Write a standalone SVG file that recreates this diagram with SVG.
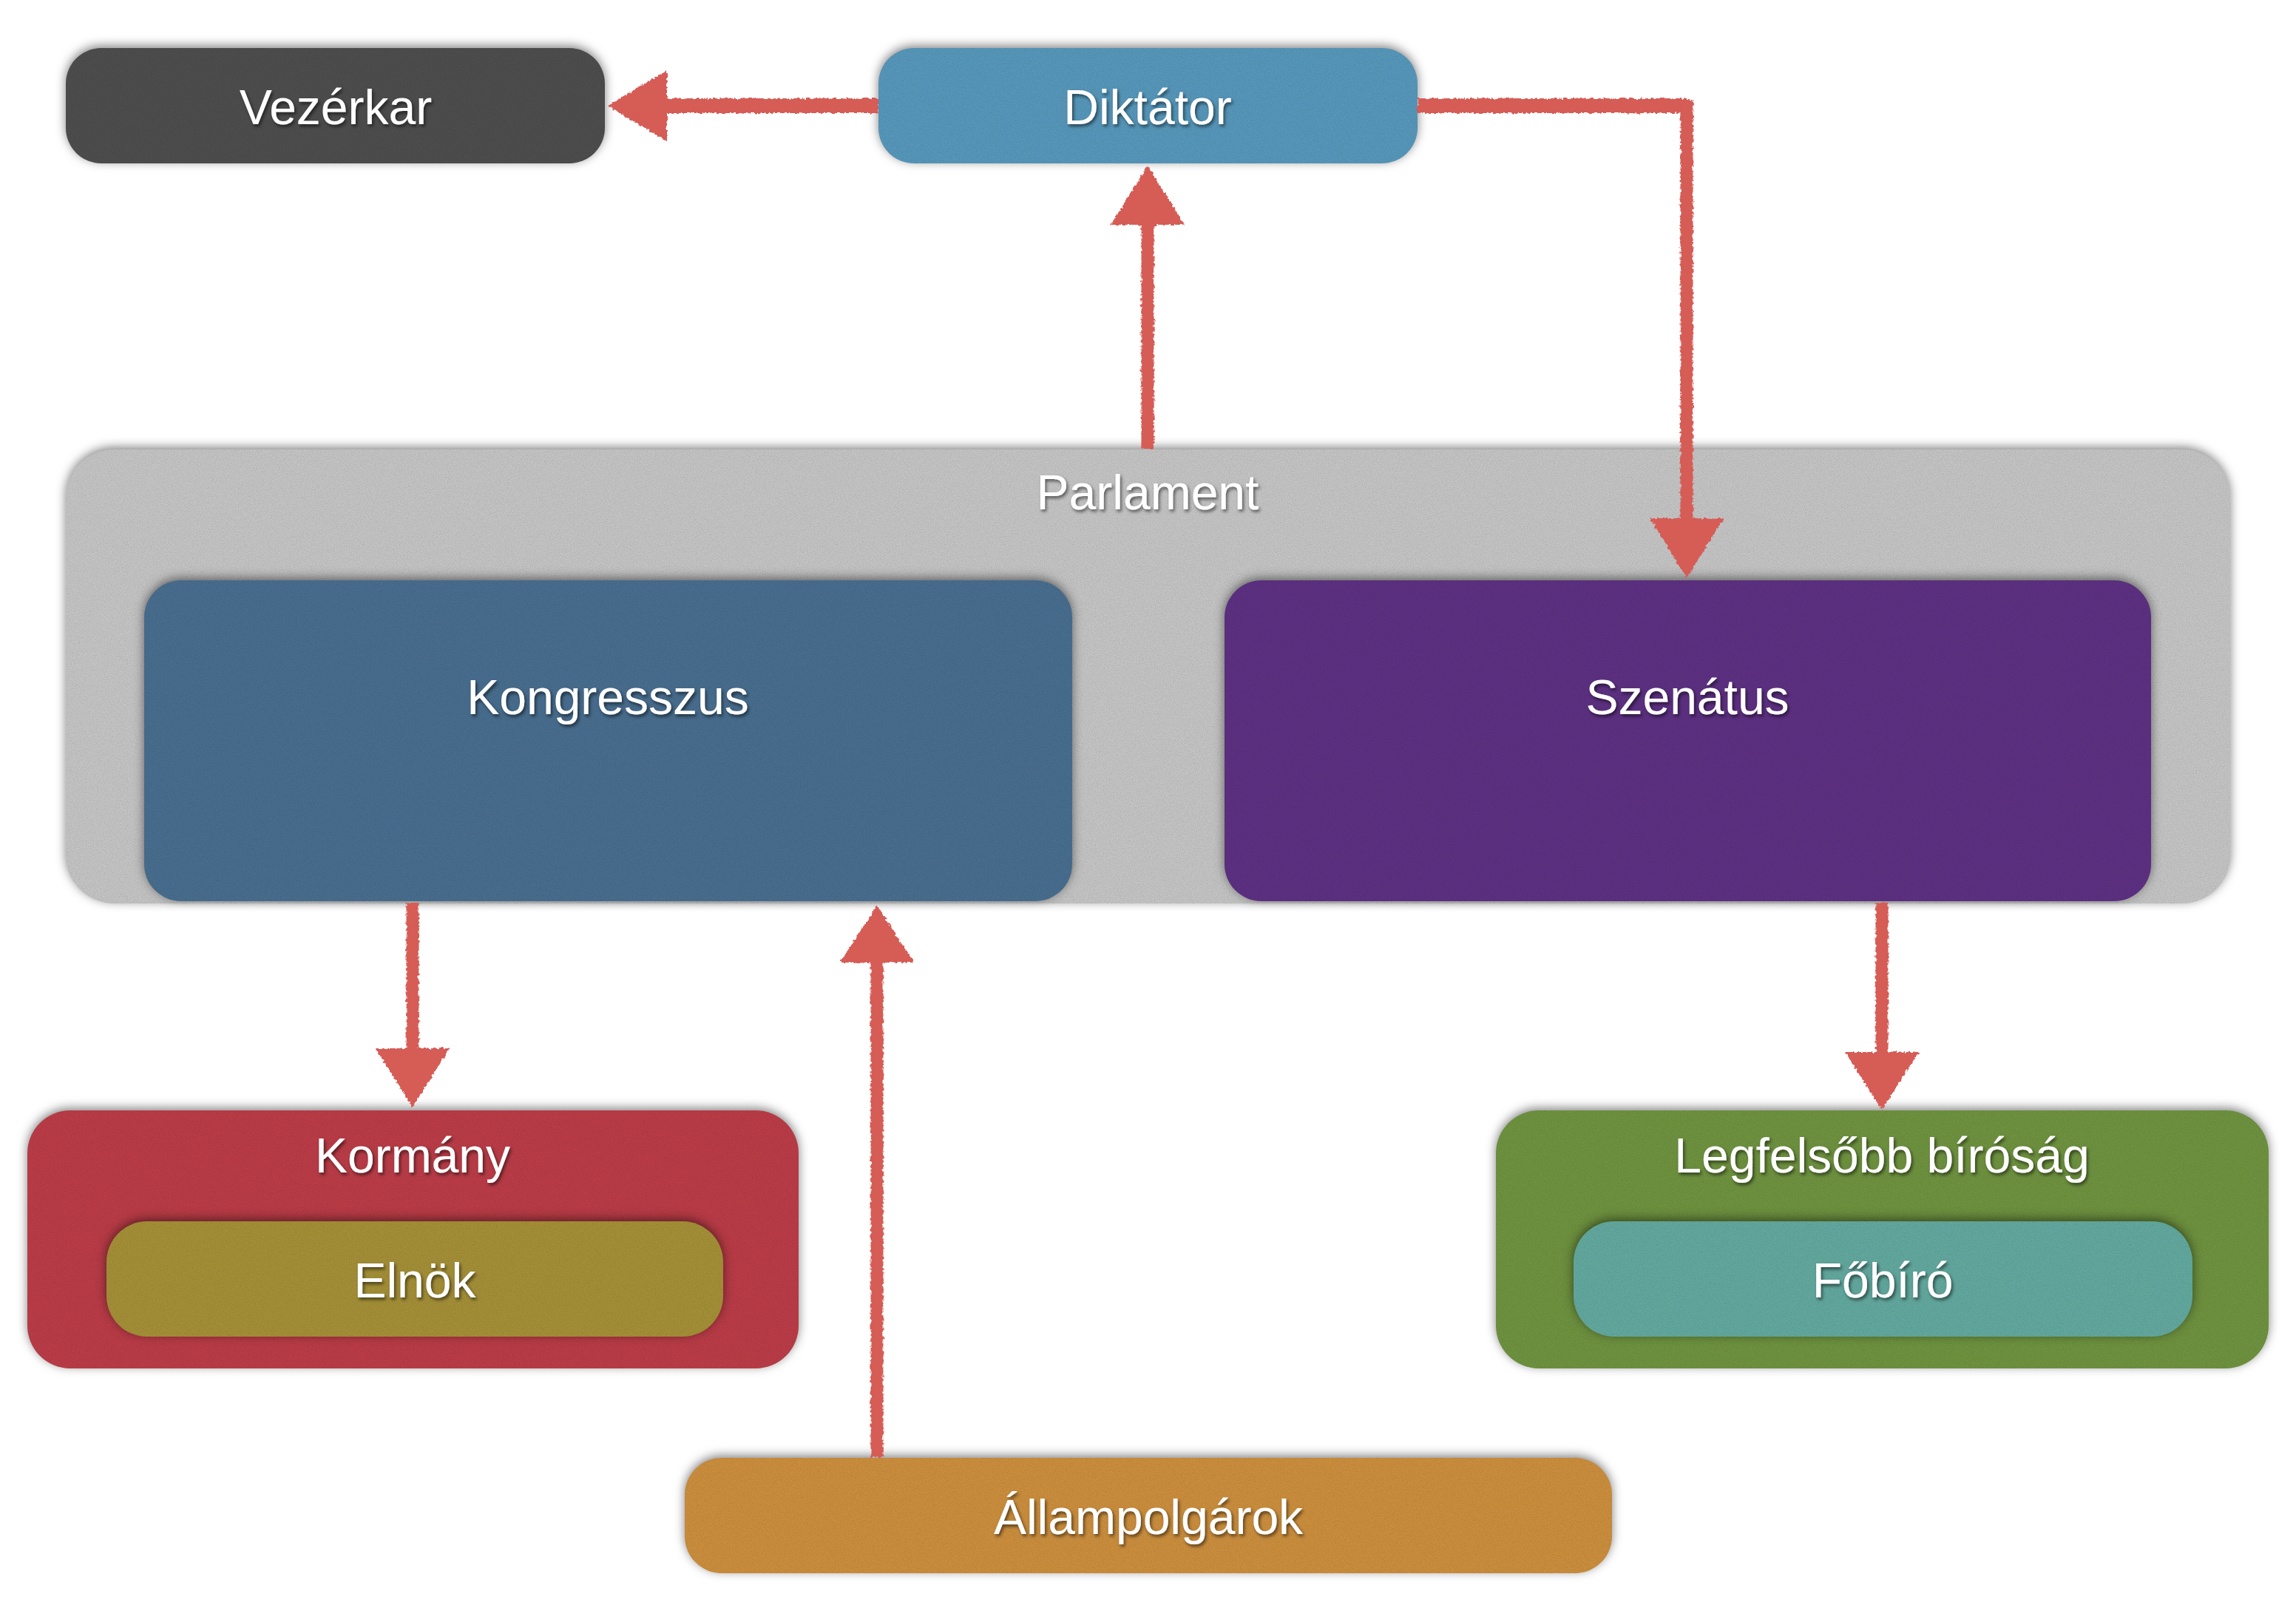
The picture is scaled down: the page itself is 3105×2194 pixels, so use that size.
<svg xmlns="http://www.w3.org/2000/svg" width="3105" height="2194" viewBox="0 0 3105 2194">
<defs>
<style>
.lbl{font-family:"Liberation Sans","Helvetica Neue",Arial,sans-serif;font-size:66px;fill:#ffffff;text-anchor:middle;filter:url(#ts)}
.con{fill:none;stroke:#d65b56;stroke-width:17;stroke-linejoin:miter}
.conh{stroke-width:20}
.head{fill:#d65b56}
.box{filter:url(#felt)}
</style>
<filter id="felt" x="-10%" y="-20%" width="120%" height="140%" color-interpolation-filters="sRGB">
<feGaussianBlur in="SourceAlpha" stdDeviation="7" result="b"/>
<feOffset in="b" dy="-3" result="bo"/>
<feFlood flood-color="#000" flood-opacity="0.5"/>
<feComposite in2="bo" operator="in" result="sh"/>
<feTurbulence type="fractalNoise" baseFrequency="0.8" numOctaves="2" seed="3" result="n"/>
<feColorMatrix in="n" type="matrix" values="0 0 0 0 0  0 0 0 0 0  0 0 0 0 0  0 0 0 -1.2 0.75" result="na"/>
<feComposite in="na" in2="SourceAlpha" operator="in" result="speck"/>
<feComponentTransfer in="speck" result="speck2"><feFuncA type="linear" slope="0.2"/></feComponentTransfer>
<feMerge><feMergeNode in="sh"/><feMergeNode in="SourceGraphic"/><feMergeNode in="speck2"/></feMerge>
</filter>
<filter id="ts" x="-10%" y="-30%" width="120%" height="160%">
<feDropShadow dx="2" dy="3" stdDeviation="2" flood-color="#000" flood-opacity="0.55"/>
</filter>
<filter id="chalk" filterUnits="userSpaceOnUse" x="0" y="0" width="3105" height="2194">
<feTurbulence type="fractalNoise" baseFrequency="0.25" numOctaves="2" seed="7" result="t"/>
<feDisplacementMap in="SourceGraphic" in2="t" scale="6" xChannelSelector="R" yChannelSelector="G"/>
</filter>
</defs>
<rect x="0" y="0" width="3105" height="2194" fill="#ffffff"/>

<g id="vezerkar">
<rect class="box" x="89" y="65" width="729" height="156" rx="48" fill="#4d4d4d"/>
<text class="lbl" x="454" y="168">Vezérkar</text>
</g>
<g id="diktator">
<rect class="box" x="1188" y="65" width="729" height="156" rx="48" fill="#5697ba"/>
<text class="lbl" x="1552" y="168">Diktátor</text>
</g>
<g id="parlament">
<rect class="box" x="89" y="608" width="2927" height="614" rx="65" fill="#c4c4c4"/>
<text class="lbl" x="1552" y="689">Parlament</text>
</g>
<g id="kongresszus">
<rect class="box" x="195" y="785" width="1255" height="434" rx="50" fill="#486d8e"/>
<text class="lbl" x="822" y="966">Kongresszus</text>
</g>
<g id="szenatus">
<rect class="box" x="1656" y="785" width="1253" height="434" rx="50" fill="#5d3082"/>
<text class="lbl" x="2282" y="966">Szenátus</text>
</g>
<g id="kormany">
<rect class="box" x="37" y="1502" width="1043" height="349" rx="58" fill="#ba3c47"/>
<text class="lbl" x="558" y="1586">Kormány</text>
</g>
<g id="elnok">
<rect class="box" x="144" y="1652" width="834" height="156" rx="55" fill="#a48f37"/>
<text class="lbl" x="561" y="1755">Elnök</text>
</g>
<g id="legfelsobb">
<rect class="box" x="2023" y="1502" width="1045" height="349" rx="58" fill="#6e923f"/>
<text class="lbl" x="2545" y="1586">Legfelsőbb bíróság</text>
</g>
<g id="fobiro">
<rect class="box" x="2128" y="1652" width="837" height="156" rx="55" fill="#62a89e"/>
<text class="lbl" x="2546" y="1755">Főbíró</text>
</g>
<g id="allampolgarok">
<rect class="box" x="926" y="1972" width="1254" height="156" rx="50" fill="#cb8e3d"/>
<text class="lbl" x="1553" y="2075">Állampolgárok</text>
</g>

<g id="connectors" filter="url(#chalk)">
<path class="con conh" d="M1188,143 L895,143"/>
<polygon class="head" points="822,143 902,95 902,191"/>
<path class="con" d="M1552,607 L1552,296"/>
<polygon class="head" points="1552,224 1502,304 1602,304"/>
<path class="con conh" d="M1917,143 L2281,143"/>
<path class="con" d="M2281,135 L2281,710"/>
<polygon class="head" points="2281,782 2231,701 2331,701"/>
<path class="con" d="M558,1221 L558,1425"/>
<polygon class="head" points="558,1498 508,1418 608,1418"/>
<path class="con" d="M2545,1221 L2545,1430"/>
<polygon class="head" points="2545,1501 2495,1423 2595,1423"/>
<path class="con" d="M1186,1971 L1186,1295"/>
<polygon class="head" points="1186,1224 1136,1302 1236,1302"/>
</g>
</svg>
